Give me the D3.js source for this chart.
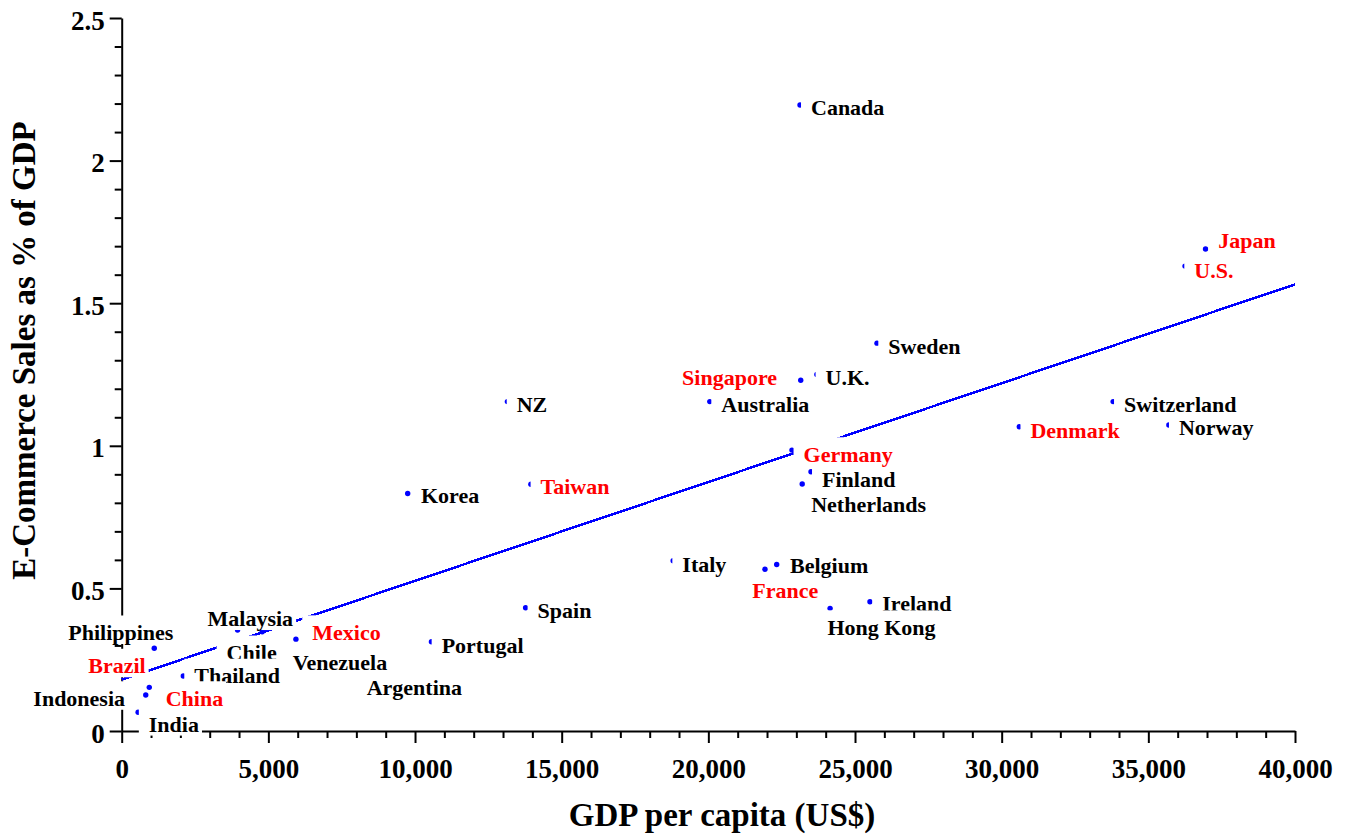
<!DOCTYPE html>
<html>
<head>
<meta charset="utf-8">
<script src="https://cdn.jsdelivr.net/npm/d3@7"></script>
<style>
  html, body { margin: 0; padding: 0; background: #fff; }
  svg { display: block; }
  text { font-family: "Liberation Serif", "Times New Roman", serif; font-weight: bold; }
</style>
</head>
<body>
<svg id="chart" width="1347" height="837"></svg>
<script>
// Countries in drawing order (later labels sit on top of earlier ones)
const countries = [
  "Canada", "Japan", "U.S.", "Sweden", "Australia", "Singapore", "U.K.", "NZ",
  "Norway", "Switzerland", "Denmark", "Finland", "Germany", "Netherlands", "Taiwan",
  "Korea", "Italy", "Belgium", "France", "Ireland", "Hong Kong", "Spain", "Portugal",
  "Malaysia", "Chile", "Mexico", "Venezuela", "Argentina", "Philippines", "Thailand",
  "Brazil", "China", "Indonesia", "India"
];
// GDP per capita (US$)
const gdpPerCapita = [
  23125, 36950, 36250, 25750, 20050, 23150, 23700, 13150,
  35700, 33800, 30600, 23500, 22850, 23200, 13950,
  9750, 18800, 22330, 21930, 25510, 24150, 13770, 10560,
  3950, 4790, 5940, 5050, 7700, 1110, 2100,
  3500, 940, 820, 560
];
// E-commerce sales as % of GDP
const ecommerceShare = [
  2.195, 1.69, 1.63, 1.36, 1.155, 1.23, 1.25, 1.155,
  1.073, 1.155, 1.067, 0.909, 0.985, 0.866, 0.865,
  0.833, 0.597, 0.584, 0.567, 0.453, 0.43, 0.432, 0.313,
  0.354, 0.348, 0.322, 0.285, 0.23, 0.29, 0.193,
  0.2, 0.153, 0.126, 0.066
];
// Countries whose names are printed in red
const redCountries = ["Brazil", "China", "Mexico", "Taiwan", "Singapore", "Germany", "France", "Denmark", "Japan", "U.S."];

// Fitted trend line end points
const trendGdp = [0, 40000];
const trendShare = [0.18, 1.566];

// Axis ticks
const xMajorTicks = [0, 5000, 10000, 15000, 20000, 25000, 30000, 35000, 40000];
const xTickLabels = ["0", "5,000", "10,000", "15,000", "20,000", "25,000", "30,000", "35,000", "40,000"];
const xMinorTicks = d3.range(0, 40001, 1000).filter(v => v % 5000 !== 0);
const yMajorTicks = [0, 0.5, 1, 1.5, 2, 2.5];
const yTickLabels = ["0", "0.5", "1", "1.5", "2", "2.5"];
const yMinorTicks = d3.range(0, 26).map(i => i / 10).filter(v => Math.round(v * 10) % 5 !== 0);

// Label placement relative to each point: [dx, dy to baseline, anchor]
const labelPlacement = {
  "Canada": [11, 10], "Japan": [12.8, -1], "U.S.": [9.3, 11.7], "Sweden": [11.3, 11.3],
  "Singapore": [-23.7, 5, "end"], "U.K.": [8.7, 10.5], "Australia": [11.5, 10], "NZ": [9.3, 10],
  "Switzerland": [10.9, 10], "Denmark": [11.2, 11], "Norway": [10.1, 10], "Germany": [11.6, 11.7],
  "Finland": [11, 15], "Netherlands": [9, 27.7], "Taiwan": [9.7, 9.7], "Korea": [13.3, 10],
  "Italy": [9.2, 11], "Belgium": [13.3, 9], "France": [-12.7, 29], "Ireland": [12.3, 9],
  "Hong Kong": [-2.7, 26.5], "Spain": [12, 10.6], "Portugal": [10.2, 11.6], "Malaysia": [-30, -4],
  "Chile": [-35.6, 28.3], "Mexico": [16.3, 0.7], "Venezuela": [22.9, 20.3], "Argentina": [19.1, 29.6],
  "Philippines": [-86, -8.3], "Thailand": [11, 7.3], "Brazil": [-78.7, -0.7, "end"],
  "China": [16.4, 18.4], "Indonesia": [-20.7, 10.7, "end"], "India": [10.7, 19.4]
};

const svg = d3.select("#chart");
svg.append("rect").attr("width", 1347).attr("height", 837).attr("fill", "#fff");

const x = d3.scaleLinear().domain([0, 40000]).range([121.7, 1295]);
const y = d3.scaleLinear().domain([0, 2.5]).range([731, 18]);

// Minor ticks
svg.append("g")
  .attr("transform", `translate(0,${y(0)})`)
  .call(d3.axisBottom(x).tickValues(xMinorTicks).tickSize(7).tickFormat(""))
  .call(g => g.select(".domain").remove())
  .call(g => g.selectAll("line").attr("stroke-width", 2));
svg.append("g")
  .attr("transform", `translate(${x(0)},0)`)
  .call(d3.axisLeft(y).tickValues(yMinorTicks).tickSize(7).tickFormat(""))
  .call(g => g.select(".domain").remove())
  .call(g => g.selectAll("line").attr("stroke-width", 2));

// Major x axis
const xAxis = svg.append("g")
  .attr("transform", `translate(0,${y(0)})`)
  .call(d3.axisBottom(x).tickValues(xMajorTicks).tickSize(12).tickSizeOuter(0)
    .tickFormat((d, i) => xTickLabels[i]));
xAxis.select(".domain").attr("stroke-width", 2);
xAxis.selectAll("line").attr("stroke-width", 2);
xAxis.selectAll("text")
  .attr("y", 47).attr("dy", 0)
  .attr("fill", "#000")
  .style("font-size", "27px")
  .style("font-family", "'Liberation Serif', 'Times New Roman', serif")
  .style("font-weight", "bold");

// Major y axis
const yAxis = svg.append("g")
  .attr("transform", `translate(${x(0)},0)`)
  .call(d3.axisLeft(y).tickValues(yMajorTicks).tickSize(12).tickSizeOuter(0).tickPadding(5)
    .tickFormat((d, i) => yTickLabels[i]));
yAxis.select(".domain").attr("stroke-width", 2);
yAxis.selectAll("line").attr("stroke-width", 2);
yAxis.selectAll("text")
  .attr("dy", 11)
  .attr("fill", "#000")
  .style("font-size", "27px")
  .style("font-family", "'Liberation Serif', 'Times New Roman', serif")
  .style("font-weight", "bold");

// Axis titles
svg.append("text")
  .attr("x", 722).attr("y", 825.5)
  .attr("text-anchor", "middle")
  .style("font-size", "33px")
  .text("GDP per capita (US$)");
svg.append("text")
  .attr("transform", "translate(35,350.5) rotate(-90)")
  .attr("text-anchor", "middle")
  .style("font-size", "33px")
  .text("E-Commerce Sales as % of GDP");

// Trend line
svg.append("line")
  .attr("x1", x(trendGdp[0])).attr("y1", y(trendShare[0]))
  .attr("x2", x(trendGdp[1])).attr("y2", y(trendShare[1]))
  .attr("stroke", "#0000ff")
  .attr("stroke-width", 2.5)
  .attr("shape-rendering", "crispEdges");

// Points
svg.append("g").selectAll("circle")
  .data(countries)
  .join("circle")
  .attr("cx", (d, i) => x(gdpPerCapita[i]))
  .attr("cy", (d, i) => y(ecommerceShare[i]))
  .attr("r", 2.7)
  .attr("fill", "#0000ff");

// Country labels on white boxes
const labels = svg.append("g");
countries.forEach((name, i) => {
  const p = labelPlacement[name];
  const bx = x(gdpPerCapita[i]) + p[0];
  const baseline = y(ecommerceShare[i]) + p[1];
  const g = labels.append("g");
  const box = g.append("rect").attr("fill", "#fff");
  const t = g.append("text")
    .attr("x", bx)
    .attr("y", baseline)
    .attr("text-anchor", p[2] || "start")
    .attr("fill", redCountries.includes(name) ? "#ff0000" : "#000")
    .style("font-size", "22px")
    .text(name);
  const b = t.node().getBBox();
  box.attr("x", b.x - 10)
    .attr("y", baseline - 24.5)
    .attr("width", b.width + 13)
    .attr("height", 28.5);
});
</script>
</body>
</html>
